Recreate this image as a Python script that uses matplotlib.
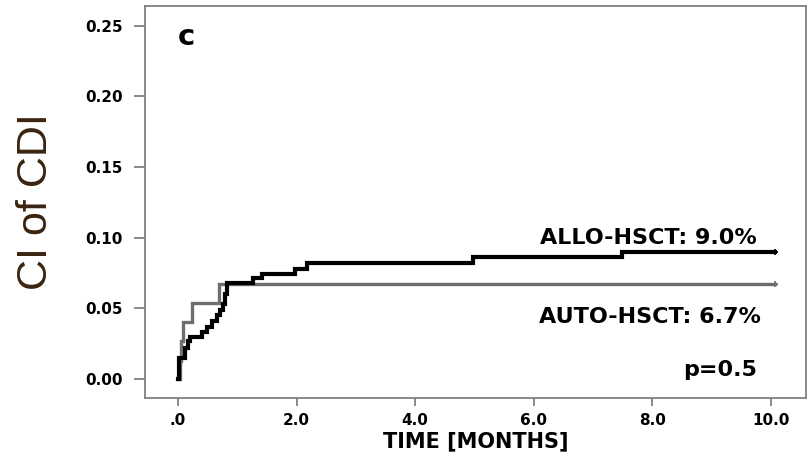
import numpy as np
import matplotlib
matplotlib.use("Agg")
import matplotlib.pyplot as plt

plt.rcParams['font.family'] = ['DejaVu Sans']

# cumulative incidence, step times in months
allo_t = [0.0, 0.02, 0.12, 0.17, 0.20, 0.40, 0.49, 0.57, 0.66, 0.71, 0.76, 0.79, 0.83,
          1.27, 1.42, 1.97, 2.17, 4.97, 7.49, 10.07]
allo_ci = [0.0, 0.015, 0.022, 0.027, 0.030, 0.033, 0.037, 0.041, 0.045, 0.049, 0.053, 0.060, 0.068,
           0.0715, 0.074, 0.078, 0.082, 0.086, 0.090, 0.090]
auto_t = [0.0, 0.03, 0.05, 0.08, 0.24, 0.70, 10.07]
auto_ci = [0.0, 0.013, 0.027, 0.040, 0.054, 0.067, 0.067]

xticks = [0, 2, 4, 6, 8, 10]
xticklabels = ['.0', '2.0', '4.0', '6.0', '8.0', '10.0']
yticks = [0.0, 0.05, 0.10, 0.15, 0.20, 0.25]

fig = plt.figure(figsize=(8.1, 4.58), dpi=100)
ax = fig.add_axes([0.179, 0.131, 0.816, 0.856])

ax.plot(auto_t, auto_ci, drawstyle='steps-post', color='#6e6e6e', lw=2.4, solid_joinstyle='miter')
ax.plot(allo_t, allo_ci, drawstyle='steps-post', color='black', lw=3.0, solid_joinstyle='miter')
ax.plot(auto_t[-1], auto_ci[-1], marker='+', color='#6e6e6e', ms=5, mew=1.2)
ax.plot(allo_t[-1], allo_ci[-1], marker='+', color='black', ms=5, mew=1.2)

ax.set_xlim(-0.556, 10.59)
ax.set_ylim(-0.0135, 0.264)
ax.set_xticks(xticks)
ax.set_xticklabels(xticklabels)
ax.set_yticks(yticks)
ax.set_yticklabels(['%.2f' % v for v in yticks])

for s in ax.spines.values():
    s.set_color('#808080')
    s.set_linewidth(1.3)
ax.tick_params(axis='both', colors='#808080', labelcolor='black', width=1.3, labelsize=11)
ax.tick_params(axis='y', length=8, pad=8)
ax.tick_params(axis='x', length=6, pad=5)
for lab in ax.get_xticklabels() + ax.get_yticklabels():
    lab.set_fontweight('bold')

ax.text(9.76, 0.0999, 'ALLO-HSCT: 9.0%', ha='right', va='center', fontsize=16, fontweight='bold')
ax.text(9.83, 0.044, 'AUTO-HSCT: 6.7%', ha='right', va='center', fontsize=16, fontweight='bold')
ax.text(9.76, 0.0064, 'p=0.5', ha='right', va='center', fontsize=16, fontweight='bold')
ax.text(0.063, 0.92, 'c', transform=ax.transAxes, ha='center', va='center', fontsize=21, fontweight='bold')

ax.set_xlabel('TIME [MONTHS]', fontsize=15, fontweight='bold', labelpad=2)
fig.text(0.044, 0.56, 'CI of CDI', rotation=90, ha='center', va='center', fontsize=31,
         color='#3a2410', family='Liberation Sans')

fig.savefig('out.png', dpi=100)
